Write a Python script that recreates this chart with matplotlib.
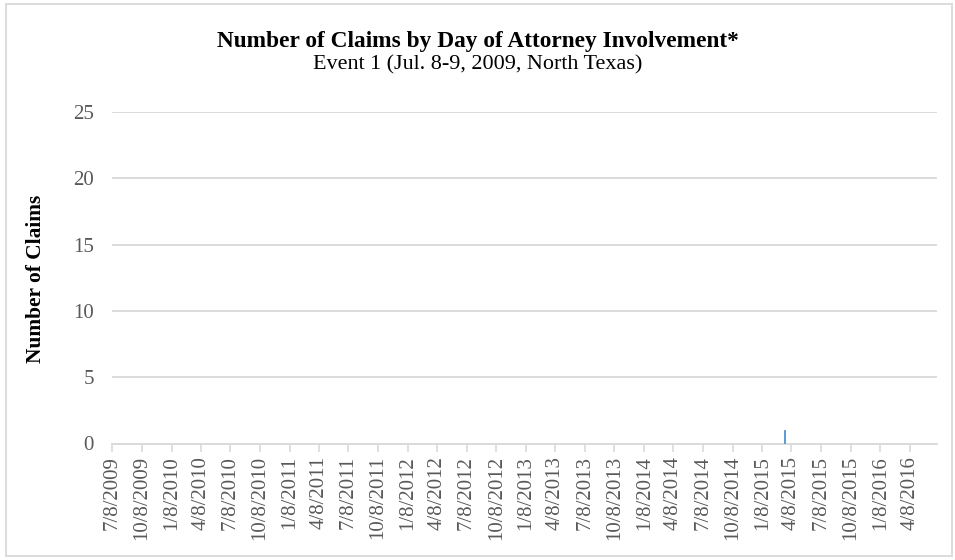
import datetime as dt

import matplotlib
matplotlib.use("Agg")
import matplotlib.dates as mdates
import matplotlib.pyplot as plt
import pandas as pd
from matplotlib.patches import Rectangle

# daily series, only non-zero days listed
CLAIM_DATES = ["2015-03-17"]
CLAIM_COUNTS = [1]
AXIS_START = "2009-07-08"
AXIS_END = "2016-07-01"
TICK_FIRST = "2009-07-08"
TICK_LAST = "2016-04-08"
Y_TICKS = [0, 5, 10, 15, 20, 25]

TITLE = "Number of Claims by Day of Attorney Involvement*"
SUBTITLE = "Event 1 (Jul. 8-9, 2009, North Texas)"
Y_LABEL = "Number of Claims"

GRID = "#d9d9d9"
TEXT = "#595959"
BAR = "#5b9bd5"

plt.rcParams["font.family"] = ["Liberation Serif", "DejaVu Serif"]

fig = plt.figure(figsize=(9.55, 5.6), dpi=100)
fig.patches.append(Rectangle((6 / 955, 4 / 560), 946 / 955, 552 / 560,
                             transform=fig.transFigure, fill=False,
                             edgecolor=GRID, linewidth=1.3))

ax = fig.add_axes([112 / 955, 1 - 443.5 / 560, 825 / 955, 331.5 / 560])

dates = [mdates.date2num(pd.Timestamp(d)) for d in CLAIM_DATES]
ax.bar(dates, CLAIM_COUNTS, width=1.0, align="edge", color=BAR,
       edgecolor=BAR, linewidth=0.7, zorder=3)

ax.set_xlim(mdates.date2num(pd.Timestamp(AXIS_START)),
            mdates.date2num(pd.Timestamp(AXIS_END)))
ax.set_ylim(0, 25)

tick_dates = pd.date_range(TICK_FIRST, TICK_LAST, freq=pd.DateOffset(months=3))
ax.set_xticks([mdates.date2num(d) for d in tick_dates])
ax.set_xticklabels([f"{d.month}/{d.day}/{d.year}" for d in tick_dates],
                   rotation=90, fontsize=15, color=TEXT)
ax.tick_params(axis="x", length=6, width=1.2, color=GRID, pad=3)

ax.set_yticks(Y_TICKS)
ax.set_yticklabels([str(v) for v in Y_TICKS], fontsize=15, color=TEXT)
ax.tick_params(axis="y", length=0, pad=13)

ax.grid(True, axis="y", color=GRID, linewidth=1.3, zorder=0)
ax.set_axisbelow(True)
for side in ["top", "right", "left"]:
    ax.spines[side].set_visible(False)
ax.spines["bottom"].set_color(GRID)
ax.spines["bottom"].set_linewidth(1.3)

fig.text(36 / 955, 1 - 279 / 560, Y_LABEL, rotation=90, ha="center", va="center",
         fontsize=15.4, fontweight="bold", color="black")
fig.text(0.5, 1 - 42 / 560, TITLE, ha="center", va="center",
         fontsize=16.8, fontweight="bold", color="black")
fig.text(0.5, 1 - 65 / 560, SUBTITLE, ha="center", va="center",
         fontsize=15.9, color="black")

fig.savefig("out.png", dpi=100)
plt.close(fig)
